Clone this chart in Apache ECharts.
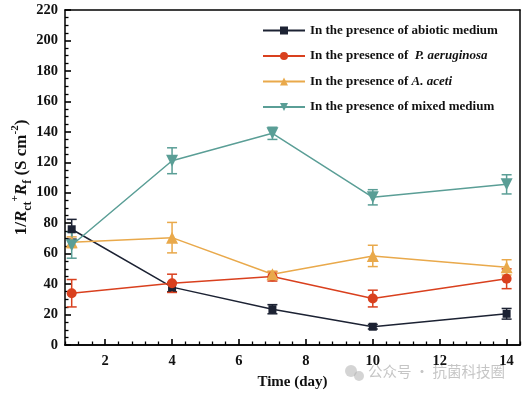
<!DOCTYPE html>
<html><head><meta charset="utf-8">
<script src="https://cdn.jsdelivr.net/npm/echarts@6/dist/echarts.min.js"></script>
<style>html,body{margin:0;padding:0;background:#fff}#c{width:522px;height:393px}</style>
</head><body><div id="c"></div>
<script>
const days = [1, 4, 7, 10, 14];
const xTickLabels = [2, 4, 6, 8, 10, 12, 14];
const xMinorTicks = [0.8, 1.2, 1.6, 2.4, 2.8, 3.2, 3.6, 4.4, 4.8, 5.2, 5.6, 6.4, 6.8, 7.2, 7.6, 8.4, 8.8, 9.2, 9.6, 10.4, 10.8, 11.2, 11.6, 12.4, 12.8, 13.2, 13.6, 14.4];
const seriesNames = ['In the presence of abiotic medium', 'In the presence of  P. aeruginosa', 'In the presence of A. aceti', 'In the presence of mixed medium'];
const abiotic = [76, 38, 23.5, 12, 20.5];
const abioticErr = [6.5, 3, 3, 1.5, 3.5];
const paer = [34, 40.5, 45, 30.5, 43.5];
const paerErr = [9, 6, 3, 5.5, 6.5];
const aaceti = [67.5, 70.5, 46.5, 58.5, 51];
const aacetiErr = [3.5, 10, 2, 7, 5];
const mixed = [65.5, 121, 139, 97, 105.5];
const mixedErr = [8.5, 8.5, 4, 5, 6.3];

const colors = ['#1c2233', '#d9401e', '#e9a94b', '#5a9e96'];
const symbols = ['rect', 'circle', 'triangle', 'path://M0,0 L10,0 L5,9 Z'];
const values = [abiotic, paer, aaceti, mixed];
const errs = [abioticErr, paerErr, aacetiErr, mixedErr];
const FONT = '"Liberation Serif", "Times New Roman", serif';

const chart = echarts.init(document.getElementById('c'), null, {renderer: 'canvas'});
const series = [];
values.forEach((vals, i) => {
  series.push({
    name: seriesNames[i], type: 'line',
    data: days.map((d, k) => [d, vals[k]]),
    symbol: symbols[i], symbolSize: i === 0 ? 8 : (i === 1 ? 10 : 12),
    showSymbol: true,
    lineStyle: {color: colors[i], width: 1.5},
    itemStyle: {color: colors[i]},
    z: 3
  });
  series.push({
    type: 'custom', name: seriesNames[i] + '_err',
    data: days.map((d, k) => [d, vals[k] - errs[i][k], vals[k] + errs[i][k]]),
    renderItem: function (params, api) {
      const x = api.value(0);
      const lo = api.coord([x, api.value(1)]);
      const hi = api.coord([x, api.value(2)]);
      const w = 5;
      const st = {stroke: colors[i], lineWidth: 1.5};
      return {type: 'group', children: [
        {type: 'line', shape: {x1: lo[0], y1: lo[1], x2: hi[0], y2: hi[1]}, style: st},
        {type: 'line', shape: {x1: lo[0] - w, y1: lo[1], x2: lo[0] + w, y2: lo[1]}, style: st},
        {type: 'line', shape: {x1: hi[0] - w, y1: hi[1], x2: hi[0] + w, y2: hi[1]}, style: st}
      ]};
    },
    z: 2, silent: true
  });
});

function boxLine() { return {show: true, onZero: false, lineStyle: {color: '#000', width: 1.5}}; }

chart.setOption({
  animation: false,
  backgroundColor: '#fff',
  grid: {left: 65, right: 2, top: 10, bottom: 48, containLabel: false, outerBoundsMode: 'none'},
  legend: {
    data: seriesNames, orient: 'vertical', left: 257, top: 19,
    itemWidth: 42, itemHeight: 10, itemGap: 12.5,
    textStyle: {fontFamily: FONT, fontWeight: 'bold', fontSize: 13, color: '#111',
      rich: {
        b: {fontFamily: FONT, fontWeight: 'bold', fontSize: 13, color: '#111'},
        i: {fontFamily: FONT, fontWeight: 'bold', fontStyle: 'italic', fontSize: 13, color: '#111'}
      }},
    formatter: function (n) {
      if (n.indexOf('P. aeruginosa') >= 0) return '{b|In the presence of  }{i|P. aeruginosa}';
      if (n.indexOf('A. aceti') >= 0) return '{b|In the presence of }{i|A. aceti}';
      return '{b|' + n + '}';
    }
  },
  xAxis: [{
    type: 'value', min: 0.8, max: 14.4, position: 'bottom',
    name: 'Time (day)', nameLocation: 'middle', nameGap: 30, nameMoveOverlap: false,
    nameTextStyle: {fontFamily: FONT, fontWeight: 'bold', fontSize: 15, color: '#111'},
    axisLine: boxLine(),
    axisTick: {show: true, inside: true, length: 6, customValues: xTickLabels, lineStyle: {color: '#000', width: 1.6}},
    axisLabel: {customValues: xTickLabels, fontFamily: FONT, fontWeight: 'bold', fontSize: 14.5, color: '#111', margin: 9},
    splitLine: {show: false}
  }, {
    type: 'value', min: 0.8, max: 14.4, position: 'bottom', offset: 0,
    axisLine: boxLine(),
    axisLabel: {show: false, customValues: xMinorTicks},
    axisTick: {show: true, inside: true, length: 3.5, customValues: xMinorTicks, lineStyle: {color: '#000', width: 1.3}},
    splitLine: {show: false}
  }, {
    type: 'value', min: 0.8, max: 14.4, position: 'top',
    axisLine: boxLine(), axisTick: {show: false}, axisLabel: {show: false}, splitLine: {show: false}
  }],
  yAxis: [{
    type: 'value', min: 0, max: 220, interval: 20, position: 'left',
    name: '{n|1/}{it|R}{sub|ct}{sup|+}{it|R}{sub|f}{n| (S cm}{sup|-2}{n|)}',
    nameLocation: 'middle', nameGap: 31, nameRotate: 90, nameMoveOverlap: false,
    nameTextStyle: {fontFamily: FONT, fontWeight: 'bold', fontSize: 17, color: '#111',
      rich: {
        n: {fontFamily: FONT, fontWeight: 'bold', fontSize: 17, color: '#111', lineHeight: 24, verticalAlign: 'middle'},
        it: {fontFamily: FONT, fontWeight: 'bold', fontStyle: 'italic', fontSize: 17, color: '#111', lineHeight: 24, verticalAlign: 'middle'},
        sub: {fontFamily: FONT, fontWeight: 'bold', fontSize: 12, color: '#111', lineHeight: 24, verticalAlign: 'bottom'},
        sup: {fontFamily: FONT, fontWeight: 'bold', fontSize: 11, color: '#111', lineHeight: 24, verticalAlign: 'top'}
      }},
    axisLine: boxLine(),
    axisTick: {show: true, inside: true, length: 6, lineStyle: {color: '#000', width: 1.6}},
    minorTick: {show: true, splitNumber: 4, length: 3.5, lineStyle: {color: '#000', width: 1.3}},
    axisLabel: {fontFamily: FONT, fontWeight: 'bold', fontSize: 14.5, color: '#111', margin: 7},
    splitLine: {show: false}
  }, {
    type: 'value', min: 0, max: 220, interval: 20, position: 'right',
    axisLine: boxLine(), axisTick: {show: false}, axisLabel: {show: false}, splitLine: {show: false}
  }],
  graphic: [{
    type: 'circle', shape: {cx: 351, cy: 371, r: 6}, silent: true, style: {fill: 'rgba(170,170,170,0.5)'}
  }, {
    type: 'circle', shape: {cx: 359, cy: 376, r: 5}, silent: true, style: {fill: 'rgba(170,170,170,0.5)'}
  }, {
    type: 'text', left: 368, top: 364, silent: true,
    style: {text: '公众号 · 抗菌科技圈', fontFamily: '"Noto Sans CJK SC", sans-serif', fontSize: 14.5, fill: 'rgba(150,150,150,0.55)'}
  }],
  series: series
});
</script></body></html>
